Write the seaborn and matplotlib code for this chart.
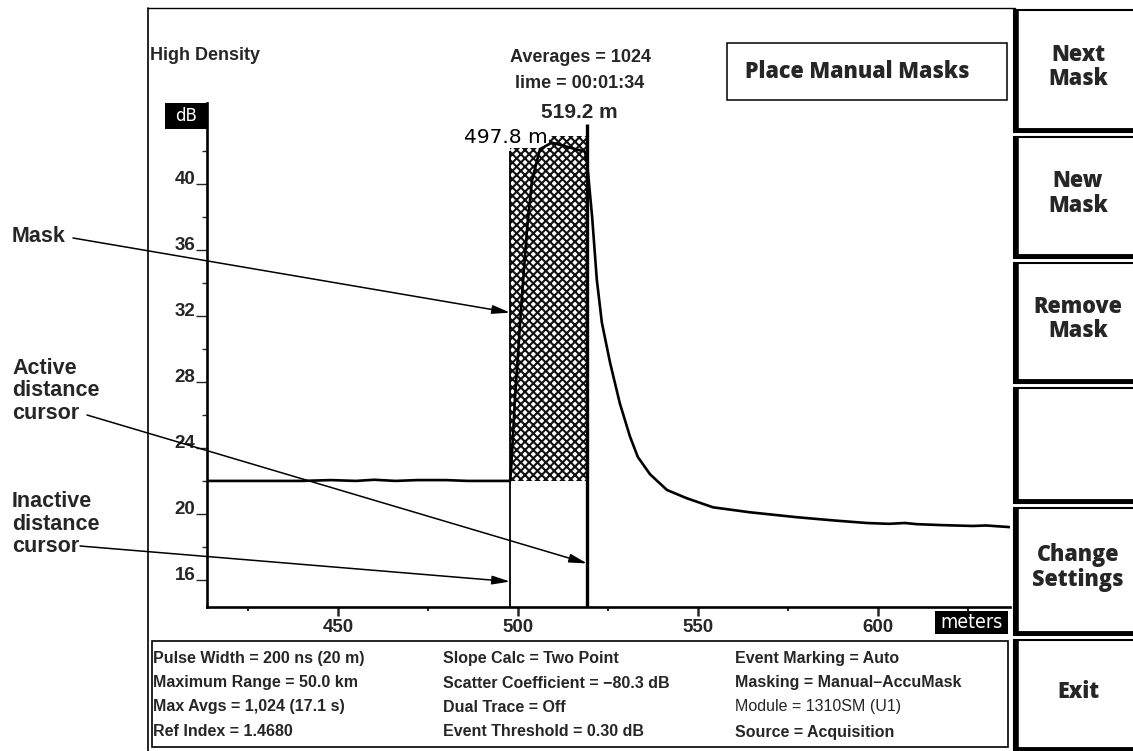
import numpy as np
import pandas as pd
import matplotlib
matplotlib.use("Agg")
import matplotlib.pyplot as plt
import seaborn as sns
from matplotlib.patches import Rectangle
from matplotlib.lines import Line2D

# ---------------- data ----------------
distance_m = [413.6, 430.0, 440.0, 448.0, 455.0, 460.0, 466.0, 472.0, 480.0, 486.0, 497.8,
              498.1, 499.2, 501.1, 502.5, 503.9, 506.1, 509.4, 514.4, 518.6,
              519.2, 520.6, 521.9, 523.3, 525.6, 528.3, 531.1, 533.3, 536.7,
              541.4, 546.9, 554.2, 564.4, 577.5, 588.0, 596.9, 603.0, 607.5,
              610.8, 618.0, 626.4, 630.0, 636.7]
level_db = [22.0, 22.0, 22.0, 22.05, 22.0, 22.07, 22.0, 22.05, 22.05, 22.0, 22.0,
            22.7, 27.1, 33.2, 37.2, 40.2, 42.1, 42.5, 42.2, 41.95,
            41.3, 38.0, 34.2, 31.6, 29.15, 26.7, 24.7, 23.45, 22.4,
            21.45, 20.95, 20.4, 20.1, 19.8, 19.6, 19.45, 19.4, 19.45,
            19.38, 19.32, 19.27, 19.3, 19.2]

inactive_cursor_m = 497.8
active_cursor_m = 519.2
mask_floor_db = 22.0
mask_top_db = 42.9
active_cursor_top_db = 43.6

x_limits = (413.6, 636.7)
y_limits = (14.36, 44.9)
x_major = [450, 500, 550, 600]
x_minor = [425, 475, 525, 575, 625]
y_major = [16, 20, 24, 28, 32, 36, 40]
y_minor = [18, 22, 26, 30, 34, 38, 42]

header_left = "High Density"
header_center = ["Averages = 1024", "lime = 00:01:34"]
title_box = "Place Manual Masks"
buttons = ["Next\nMask", "New\nMask", "Remove\nMask", "", "Change\nSettings", "Exit"]
info_columns = [
    ["Pulse Width = 200 ns (20 m)", "Maximum Range = 50.0 km", "Max Avgs = 1,024 (17.1 s)", "Ref Index = 1.4680"],
    ["Slope Calc = Two Point", "Scatter Coefficient = \u221280.3 dB", "Dual Trace = Off", "Event Threshold = 0.30 dB"],
    ["Event Marking = Auto", "Masking = Manual\u2013AccuMask", "Module = 1310SM (U1)", "Source = Acquisition"],
]
annotations = [("Mask", 32.2), ("Active\ndistance\ncursor", 17.0), ("Inactive\ndistance\ncursor", 15.9)]

# ---------------- style ----------------
sns.set_theme(style="white")
plt.rcParams["font.family"] = ["Liberation Sans", "DejaVu Sans"]
plt.rcParams["hatch.linewidth"] = 1.5
BTN = ["Open Sans", "DejaVu Sans"]

W, H = 1133, 751
fig = plt.figure(figsize=(W / 100, H / 100), dpi=100)
fig.patch.set_facecolor("white")


def fx(x):
    return x / W


def fy(y):
    return 1 - y / H


def frect(x0, y0, x1, y1, **kw):
    r = Rectangle((fx(x0), fy(y1)), fx(x1) - fx(x0), fy(y0) - fy(y1),
                  transform=fig.transFigure, **kw)
    fig.add_artist(r)
    return r


def fline(xs, ys, **kw):
    fig.add_artist(Line2D([fx(v) for v in xs], [fy(v) for v in ys],
                          transform=fig.transFigure, **kw))


# axes position (pixels)
AX_L, AX_R, AX_T, AX_B = 207, 1010, 103, 607
ax = fig.add_axes([fx(AX_L), fy(AX_B), fx(AX_R) - fx(AX_L), fy(AX_T) - fy(AX_B)])
ax.set_facecolor("white")

df = pd.DataFrame({"distance_m": distance_m, "level_db": level_db})

# mask (hatched)
ax.fill_between([inactive_cursor_m, active_cursor_m], mask_floor_db, mask_top_db,
                facecolor="white", edgecolor="#111111", hatch="xxxx", linewidth=0, zorder=1)

# inactive cursor label (drawn under the trace)
ax.text(508.3, 42.5, f"{inactive_cursor_m:.1f} m", ha="right", va="baseline",
        fontsize=14.5, fontfamily=["DejaVu Sans"], color="black", zorder=2,
        bbox=dict(facecolor="white", edgecolor="none", pad=1.2))

sns.lineplot(data=df, x="distance_m", y="level_db", ax=ax, color="black",
             linewidth=1.9, sort=False, estimator=None, zorder=4)

# cursors
ax.vlines(inactive_cursor_m, y_limits[0], 42.0, color="black", lw=1.3, zorder=3)
ax.vlines(active_cursor_m, y_limits[0], active_cursor_top_db, color="black", lw=2.4, zorder=4)

ax.set_xlim(*x_limits)
ax.set_ylim(*y_limits)
ax.set_xlabel("")
ax.set_ylabel("")
for s in ["top", "right"]:
    ax.spines[s].set_visible(False)
for s in ["left", "bottom"]:
    ax.spines[s].set_linewidth(1.9)
    ax.spines[s].set_color("black")

ax.set_xticks(x_major)
ax.set_xticks(x_minor, minor=True)
ax.set_yticks(y_major)
ax.set_yticks(y_minor, minor=True)
ax.set_xticklabels([str(v) for v in x_major], fontweight="bold", fontsize=13.5)
ax.set_yticklabels([str(v) for v in y_major], fontweight="bold", fontsize=13.5, va="baseline")
ax.tick_params(axis="x", which="major", direction="out", length=6.5, width=1.8, pad=2, bottom=True)
ax.tick_params(axis="x", which="minor", direction="out", length=3, width=1.5, bottom=True)
ax.tick_params(axis="y", which="major", direction="out", length=8.0, width=1.0, pad=0.5, left=True)
ax.tick_params(axis="y", which="minor", direction="out", length=3.5, width=1.0, left=True)
ax.grid(False)

# ---------------- frame / boxes ----------------
fline([148, 148], [8, 751], color="black", lw=1.2)
fline([148, 1015], [8, 8], color="black", lw=1.0)

# dB box
frect(165, 103, 207, 129, facecolor="black", edgecolor="none")
fig.text(fx(186), fy(116), "dB", color="white", ha="center", va="center", fontsize=12,
         fontfamily=["DejaVu Sans"])

# meters box
frect(935, 611, 1008, 634, facecolor="black", edgecolor="none")
fig.text(fx(971), fy(622), "meters", color="white", ha="center", va="center", fontsize=14,
         fontfamily=["DejaVu Sans"], fontstretch="condensed")

# header texts
fig.text(fx(150), fy(55), header_left, ha="left", va="center", fontsize=13, fontweight="bold")
fig.text(fx(580), fy(57), header_center[0], ha="center", va="center", fontsize=13, fontweight="bold")
fig.text(fx(580), fy(83), header_center[1], ha="center", va="center", fontsize=13, fontweight="bold")
fig.text(fx(579), fy(112), f"{active_cursor_m:.1f} m", ha="center", va="center", fontsize=15,
         fontweight="bold")

# title box
frect(727, 43, 1007, 100, facecolor="white", edgecolor="black", lw=1.1)
fig.text(fx(857), fy(72), title_box, ha="center", va="center", fontsize=15.5, fontweight=800,
         fontfamily=BTN)

# buttons
btn_rows = [(10, 132), (137, 258), (263, 383), (388, 503), (508, 635), (640, 751)]
for (y0, y1), label in zip(btn_rows, buttons):
    frect(1014, y0, 1140, y1, facecolor="white", edgecolor="black", lw=1.5)
    fline([1016, 1016], [y0, y1], color="black", lw=4.0, solid_capstyle="butt")
    fline([1014, 1140], [y1 - 2, y1 - 2], color="black", lw=3.5, solid_capstyle="butt")
    if label:
        fig.text(fx(1078), fy((y0 + y1) / 2 - 4), label, ha="center", va="center", fontsize=15.5,
                 fontweight=800, fontfamily=BTN, linespacing=1.05)

# info panel
frect(152, 641, 1008, 747, facecolor="white", edgecolor="black", lw=1.2)
col_x = [153, 443, 735]
row_y = [659, 683, 707, 732]
for ci, col in enumerate(info_columns):
    for ri, txt in enumerate(col):
        weight = "normal" if txt.startswith("Module") else "bold"
        fig.text(fx(col_x[ci]), fy(row_y[ri]), txt, ha="left", va="center", fontsize=11.5,
                 fontweight=weight)

# callouts
ann_text_pos = [(12, 237), (12, 391), (12, 524)]
ann_tail = [(73, 238), (87, 415), (80, 546)]
ann_target_x = [inactive_cursor_m, active_cursor_m, inactive_cursor_m]
for (label, tip_db), (tx, ty), (lx, ly), tip_x in zip(annotations, ann_text_pos, ann_tail, ann_target_x):
    fig.text(fx(tx), fy(ty), label, ha="left", va="center", fontsize=15.5, fontweight="bold",
             linespacing=1.12)
    ax.annotate("", xy=(tip_x, tip_db), xycoords="data",
                xytext=(lx, H - ly), textcoords="figure pixels",
                arrowprops=dict(arrowstyle="-|>,head_length=0.9,head_width=0.22", lw=1.1,
                                color="black", shrinkA=0, shrinkB=0),
                annotation_clip=False, zorder=6)

fig.savefig("out.png", dpi=100, facecolor="white")
